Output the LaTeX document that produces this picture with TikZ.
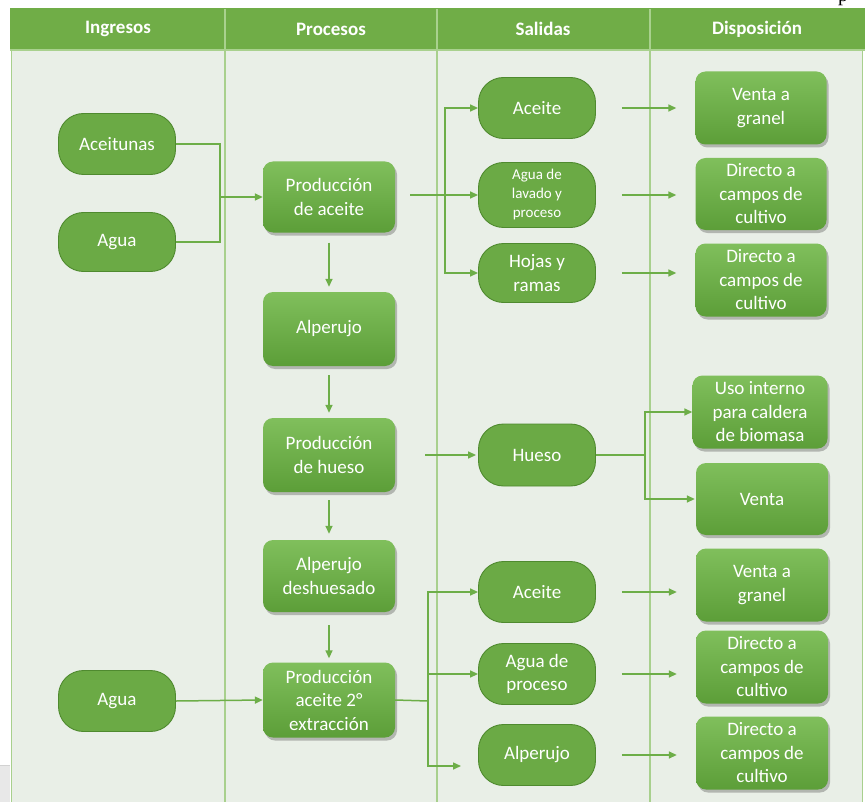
\documentclass[tikz,border=0pt]{standalone}
\usepackage{fontspec}
\setmainfont{Carlito}
\newfontfamily\serifface{Liberation Serif}
\usetikzlibrary{arrows.meta,shadows}

\definecolor{hdrgreen}{HTML}{70AD47}
\definecolor{hdrsep}{HTML}{A9D18E}
\definecolor{paneBg}{HTML}{E9EFE7}
\definecolor{laneLine}{HTML}{A8D08D}
\definecolor{flowLine}{HTML}{6DAE48}
\definecolor{pillFill}{HTML}{6BAA45}
\definecolor{pillEdge}{HTML}{4F8A2F}
\definecolor{boxTop}{HTML}{80BF5C}
\definecolor{boxBot}{HTML}{5C9E38}

\tikzset{
  lbl/.style={text=white, align=center, font=\fontsize{19}{23.5}\selectfont, inner sep=0pt},
  hdrtxt/.style={text=white, font=\bfseries\fontsize{19}{23}\selectfont, inner sep=0pt},
  pill/.style={lbl, shape=rectangle, rounded corners=25pt, fill=pillFill, draw=pillEdge,
    line width=0.9pt, minimum width=117pt, minimum height=61pt},
  stepbox/.style={lbl, shape=rectangle, rounded corners=10pt, top color=boxTop, bottom color=boxBot,
    draw=none, minimum width=132pt, minimum height=73pt,
    drop shadow={shadow xshift=2pt, shadow yshift=-3pt, opacity=0.35, fill=black!70}},
  flow/.style={draw=flowLine, line width=1.5pt},
  arr/.style={flow, -{Triangle[length=8pt,width=7pt]}},
}

\begin{document}
\begin{tikzpicture}[x=1pt,y=-1pt]
\useasboundingbox (0,0) rectangle (866,802);

% page furniture: lane background and header band
\fill[paneBg] (11,50) rectangle (863,802);
\fill[gray!18] (0,765) rectangle (10,802);
\draw[gray!35, line width=0.8pt] (0,765) -- (10,765);
\fill[hdrgreen] (10,8) rectangle (865,50);
\draw[hdrsep, line width=1.2pt] (10,50) -- (865,50);
\foreach \lx in {225,437,650}{
  \draw[hdrsep, line width=1.2pt] (\lx,9) -- (\lx,50);
  \draw[laneLine, line width=1.5pt] (\lx,50) -- (\lx,802);
}
\draw[laneLine, line width=1.5pt] (11.5,50) -- (11.5,802);
\draw[laneLine, line width=1.5pt] (862.5,50) -- (862.5,802);

% clipped fragment of a text line above the table
\begin{scope}
  \clip (825,0) rectangle (866,7);
  \node[anchor=base, inner sep=0pt, font=\serifface\fontsize{20}{24}\selectfont] (topfrag) at (843,1.5) {p};
\end{scope}

% column headings
\node[hdrtxt] (hIn)  at (118,29) {Ingresos};
\node[hdrtxt] (hPro) at (331,29) {Procesos};
\node[hdrtxt] (hSal) at (543,29) {Salidas};
\node[hdrtxt] (hDis) at (757,29) {Disposición};

% inputs
\node[pill] (ace) at (117,144) {Aceitunas};
\node[pill, minimum height=59pt] (ag1) at (117,242) {Agua};
\node[pill] (ag2) at (117,701) {Agua};

% processes
\node[stepbox, minimum height=71pt] (p1) at (329,197) {Producción\\de aceite};
\node[stepbox, minimum height=74pt] (alp) at (329,329) {Alperujo};
\node[stepbox, minimum height=74pt] (p2) at (329,455) {Producción\\de hueso};
\node[stepbox, minimum height=72pt] (alpd) at (329,576) {Alperujo\\deshuesado};
\node[stepbox, minimum height=75pt] (p3) at (329,700) {Producción\\aceite 2°\\extracción};

% outputs
\node[pill] (s1) at (537,108) {Aceite};
\node[pill, minimum height=65pt, font=\fontsize{15}{19}\selectfont] (s2) at (537,195) {Agua de\\lavado y\\proceso};
\node[pill, minimum height=59pt] (s3) at (537,273) {Hojas y\\ramas};
\node[pill, minimum height=62pt] (s4) at (537,455) {Hueso};
\node[pill] (s5) at (537,592) {Aceite};
\node[pill] (s6) at (537,674) {Agua de\\proceso};
\node[pill] (s7) at (537,755) {Alperujo};

% destinations
\node[stepbox, minimum width=131pt] (d1) at (761,108) {Venta a\\granel};
\node[stepbox, minimum width=131pt, minimum height=72pt] (d2) at (761,194) {Directo a\\campos de\\cultivo};
\node[stepbox, minimum width=131pt] (d3) at (761,280) {Directo a\\campos de\\cultivo};
\node[stepbox, minimum width=135pt] (d4) at (760,412) {Uso interno\\para caldera\\de biomasa};
\node[stepbox, minimum width=132pt, minimum height=72pt] (d5) at (762,499) {Venta};
\node[stepbox, minimum width=132pt] (d6) at (762,585) {Venta a\\granel};
\node[stepbox, minimum width=132pt] (d7) at (762,667) {Directo a\\campos de\\cultivo};
\node[stepbox, minimum width=132pt] (d8) at (762,753) {Directo a\\campos de\\cultivo};

% junction points
\coordinate (jIn) at (220,197);
\coordinate (jP1) at (445,195);
\coordinate (jHue) at (645,455);
\coordinate (jP3) at (428,701);
\coordinate (tailP1) at (410,195);
\coordinate (endAlp) at (461,766);

% inputs into first process
\draw[flow] (ace.east) -| (jIn);
\draw[flow] (ag1.east) -| (jIn);
\draw[arr] (jIn) -- (p1.west);

% first process fan-out
\draw[flow] (tailP1) -- (jP1);
\draw[arr] (jP1) |- (s1.west);
\draw[arr] (jP1) -- (s2.west);
\draw[arr] (jP1) |- (s3.west);

% process chain
\draw[arr] ([yshift=-10pt]p1.south) -- ([yshift=5pt]alp.north);
\draw[arr] ([yshift=-9pt]alp.south) -- ([yshift=5pt]p2.north);
\draw[arr] ([yshift=-8pt]p2.south) -- ([yshift=6pt]alpd.north);
\draw[arr] ([yshift=-13pt]alpd.south) -- ([yshift=4pt]p3.north);

% bone production
\draw[arr] ([xshift=30pt]p2.east) -- ([xshift=-2pt]s4.west);
\draw[flow] (s4.east) -- (jHue);
\draw[arr] (jHue) |- (d4.west);
\draw[arr] (jHue) |- ([xshift=-1pt]d5.west);

% second extraction
\draw[arr] (ag2.east) -- (p3.west);
\draw[flow] (p3.east) -- (jP3);
\draw[arr] (jP3) |- (s5.west);
\draw[arr] (jP3) |- (s6.west);
\draw[arr] (jP3) |- (endAlp);

% outputs to destinations
\foreach \s/\d in {s1/d1,s2/d2,s3/d3,s5/d6,s6/d7,s7/d8}{
  \draw[arr] ([xshift=26pt]\s.east) -- ([xshift=-19pt]\d.west |- \s.east);
}
\end{tikzpicture}
\end{document}
